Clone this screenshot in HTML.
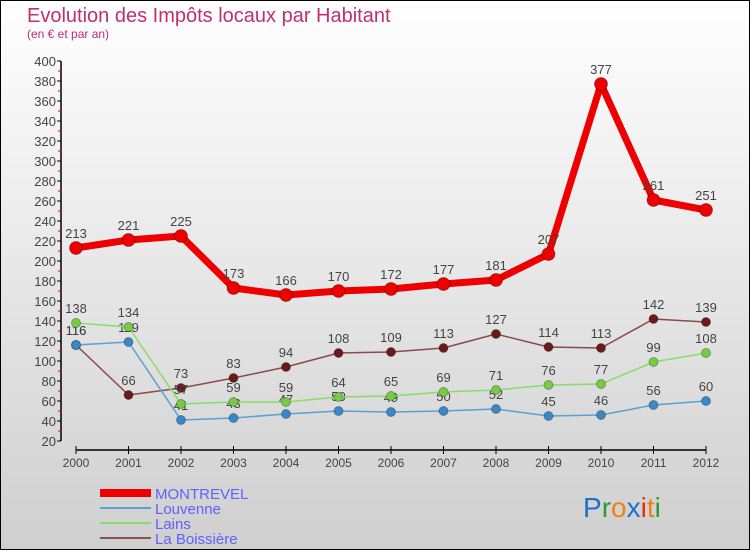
<!DOCTYPE html>
<html><head><meta charset="utf-8"><style>
body{margin:0;width:750px;height:550px;overflow:hidden}
svg{display:block;font-family:"Liberation Sans","DejaVu Sans",sans-serif}
</style></head><body>
<svg id="chart" width="750" height="550">
<defs><linearGradient id="bg" x1="0" y1="0" x2="0" y2="1"><stop offset="0" stop-color="#ffffff"/><stop offset="1" stop-color="#cfcfcf"/></linearGradient></defs>
<rect x="0.5" y="0.5" width="749" height="549" fill="url(#bg)" stroke="#000"/>
<text x="27" y="22" font-size="20" fill="#c0306a">Evolution des Impôts locaux par Habitant</text>
<text x="27" y="38" font-size="12" fill="#c0306a">(en € et par an)</text>
<g id="axes"></g><g id="series"></g>
<g>
<rect x="100" y="489" width="51" height="8" fill="#e00"/>
<text x="155" y="499" font-size="15" fill="#6060ff">MONTREVEL</text>
<line x1="100" y1="508" x2="151" y2="508" stroke="#5aa0d0" stroke-width="2"/>
<text x="155" y="514" font-size="15" fill="#6060ff">Louvenne</text>
<line x1="100" y1="523" x2="151" y2="523" stroke="#88dd66" stroke-width="2"/>
<text x="155" y="529" font-size="15" fill="#6060ff">Lains</text>
<line x1="100" y1="538" x2="151" y2="538" stroke="#8b5050" stroke-width="2"/>
<text x="155" y="544" font-size="15" fill="#6060ff">La Boissière</text>
</g>
<text x="583" y="517" font-size="28"><tspan fill="#1a73c8">P</tspan><tspan fill="#2a9a3a">r</tspan><tspan fill="#f08010">o</tspan><tspan fill="#1a73c8">x</tspan><tspan fill="#e03010">i</tspan><tspan fill="#f08010">t</tspan><tspan fill="#2a9a3a">i</tspan></text>
</svg>
<script>
const years=["2000","2001","2002","2003","2004","2005","2006","2007","2008","2009","2010","2011","2012"];
const yTicks=[20,40,60,80,100,120,140,160,180,200,220,240,260,280,300,320,340,360,380,400];
const montrevel=[213,221,225,173,166,170,172,177,181,207,377,261,251];
const louvenne=[116,119,41,43,47,50,49,50,52,45,46,56,60];
const lains=[138,134,57,59,59,64,65,69,71,76,77,99,108];
const boissiere=[116,66,73,83,94,108,109,113,127,114,113,142,139];
const NS="http://www.w3.org/2000/svg";
function xs(i){return 76+i*52.5;}
function ys(v){return 461-v;}
function mk(t,a,p){const e=document.createElementNS(NS,t);for(const k in a)e.setAttribute(k,a[k]);p.appendChild(e);return e;}
const ax=document.getElementById('axes');
let l=mk('line',{x1:61,y1:61,x2:61,y2:441,stroke:'#000','stroke-width':1.5},ax);


yTicks.forEach(v=>{
 const t=mk('line',{x1:57,y1:ys(v),x2:61,y2:ys(v),stroke:'#000'},ax);
 
 
 if(v<400){const m=mk('line',{x1:58,y1:ys(v+10),x2:61,y2:ys(v+10),stroke:'#e00'},ax);
 
 }
 const tx=mk('text',{x:56,y:ys(v)+5,'font-size':13,fill:'#444','text-anchor':'end'},ax);
 tx.textContent=v;
 
 
});
l=mk('line',{x1:76,y1:450,x2:706,y2:450,stroke:'#000','stroke-width':1.5},ax);


years.forEach((y,i)=>{
 const t=mk('line',{x1:xs(i),y1:446,x2:xs(i),y2:454,stroke:'#000'},ax);
 
 
 const tx=mk('text',{x:xs(i),y:467,'font-size':12,fill:'#444','text-anchor':'middle'},ax);
 tx.textContent=y;
 
 
});
const sg=document.getElementById('series');
function draw(arr,name,color,dot,w,r){
 const g=mk('g',{},sg);
 
 
 const p=mk('polyline',{points:arr.map((v,i)=>xs(i)+','+ys(v)).join(' '),fill:'none',stroke:color,'stroke-width':w,'stroke-linejoin':'round'},g);
 
 
 arr.forEach((v,i)=>{
  const c=mk('circle',{cx:xs(i),cy:ys(v),r:r,fill:dot,stroke:'rgba(0,0,0,0.3)'},g);
  
  
  const t=mk('text',{x:xs(i),y:ys(v)-10,'font-size':13,fill:'#444','text-anchor':'middle'},g);
  t.textContent=v;
  
  
 });
}
draw(boissiere,'la-boissiere','#8b4a4a','#6a1a1a',1.5,4.5);
draw(louvenne,'louvenne','#5aa0d0','#3a88c8',1.5,4.5);
draw(lains,'lains','#88dd66','#77cc44',1.5,4.5);
draw(montrevel,'montrevel','#ee0000','#ee0000',7,6.5);
</script>
</body></html>
